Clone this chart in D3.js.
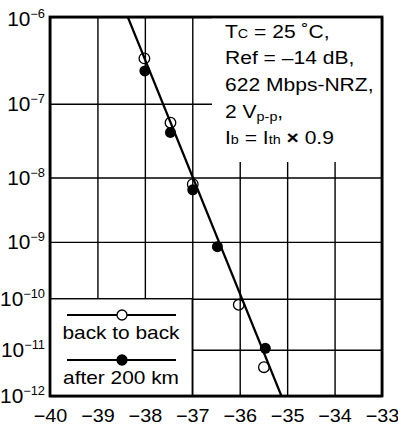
<!DOCTYPE html>
<html>
<head>
<meta charset="utf-8">
<script src="https://cdn.jsdelivr.net/npm/d3@7"></script>
<style>
  body { margin: 0; background: #fff; }
  text { font-family: "Liberation Sans", Arial, sans-serif; fill: #000; }
</style>
</head>
<body>
<svg width="398" height="430"></svg>
<script>
// received optical power (dBm) and bit error rate
let xTicks = [-40, -39, -38, -37, -36, -35, -34, -33];
let berTicks = [1e-6, 1e-7, 1e-8, 1e-9, 1e-10, 1e-11, 1e-12];
let berExp = ["−6", "−7", "−8", "−9", "−10", "−11", "−12"];

let b2bPower = [-38.01, -37.46, -36.99, -36.02, -35.49];
let b2bBer = [3.5e-7, 5.7e-8, 8.0e-9, 7.7e-11, 4.3e-12];

let kmPower = [-38.0, -37.46, -36.99, -36.47, -35.46];
let kmBer = [2.5e-7, 4.25e-8, 6.6e-9, 8.3e-10, 1.07e-11];

let fitPower = [-38.36, -35.12];
let fitBer = [1e-6, 1e-12];

let legendNames = ["back to back", "after 200 km"];

// inverse of the gaussian tail, Q^-1(p) (Acklam)
function qinv(p) {
  let c = [-7.784894002430293e-03, -3.223964580411365e-01, -2.400758277161838e+00,
           -2.549732539343734e+00, 4.374664141464968e+00, 2.938163982698783e+00];
  let d = [7.784695709041462e-03, 3.224671290700398e-01, 2.445134607878984e+00,
           3.754408161209660e+00];
  let q = Math.sqrt(-2 * Math.log(p));
  return (((((c[0]*q + c[1])*q + c[2])*q + c[3])*q + c[4])*q + c[5]) /
         ((((d[0]*q + d[1])*q + d[2])*q + d[3])*q + 1);
}

let margin = {top: 17, right: 16, bottom: 34, left: 50};
let svg = d3.select("svg");
let W = 398, H = 430;
let w = W - margin.left - margin.right;
let h = H - margin.top - margin.bottom;

let x = d3.scaleLinear().domain([-40, -33]).range([0, w]);
let yq = d3.scaleLog().domain([qinv(1e-6), qinv(1e-12)]).range([0, h]);
let y = ber => yq(qinv(ber));

let g = svg.append("g").attr("transform", "translate(" + margin.left + "," + margin.top + ")");

// grid + x labels
let xAxis = g.append("g")
  .attr("transform", "translate(0," + h + ")")
  .call(d3.axisBottom(x).tickValues(xTicks).tickFormat(d3.format("d")).tickSize(-h).tickPadding(13));
xAxis.select(".domain").remove();
xAxis.selectAll("line").attr("stroke", "#000").attr("stroke-width", 1.4);
xAxis.selectAll("text")
  .attr("font-size", 18)
  .attr("font-family", "Liberation Sans, Arial, sans-serif")
  .attr("transform", "scale(1.1,1)");

let yAxis = g.append("g")
  .call(d3.axisLeft(yq).tickValues(berTicks.map(qinv)).tickSize(-w).tickFormat(""));
yAxis.select(".domain").remove();
yAxis.selectAll("line").attr("stroke", "#000").attr("stroke-width", 1.4);

// y labels 10^n
berTicks.forEach(function(b, i) {
  let yy = y(b) + (i == 0 ? 9 : 7);
  let t = g.append("text")
    .attr("text-anchor", "end")
    .attr("transform", "translate(-5," + yy + ") scale(1.07,1)")
    .attr("font-size", 19.5);
  t.append("tspan").text("10");
  t.append("tspan").attr("font-size", 12).attr("dy", -8).text(berExp[i]);
});

// white boxes for legend and notes
g.append("rect").attr("x", x(-40)).attr("y", y(1e-10))
  .attr("width", x(-37) - x(-40)).attr("height", h - y(1e-10))
  .attr("fill", "#fff").attr("stroke", "#000").attr("stroke-width", 1.4);
g.append("rect").attr("x", 162).attr("y", 0)
  .attr("width", w - 162).attr("height", 145)
  .attr("fill", "#fff");

// fitted line
g.append("line")
  .attr("x1", x(fitPower[0])).attr("y1", y(fitBer[0]))
  .attr("x2", x(fitPower[1])).attr("y2", y(fitBer[1]))
  .attr("stroke", "#000").attr("stroke-width", 2.2);

// points
g.selectAll(".km").data(kmPower).enter().append("circle")
  .attr("cx", d => x(d)).attr("cy", (d, i) => y(kmBer[i]))
  .attr("r", 5.5).attr("fill", "#000");
g.selectAll(".b2b").data(b2bPower).enter().append("circle")
  .attr("cx", d => x(d)).attr("cy", (d, i) => y(b2bBer[i]))
  .attr("r", 5.3).attr("fill", "none").attr("stroke", "#000").attr("stroke-width", 1.3);

// frame
g.append("rect").attr("width", w).attr("height", h)
  .attr("fill", "none").attr("stroke", "#000").attr("stroke-width", 2.8);

// legend
let legY = [298, 343];
legendNames.forEach(function(name, i) {
  g.append("line").attr("x1", 17).attr("x2", 126)
    .attr("y1", legY[i]).attr("y2", legY[i])
    .attr("stroke", "#000").attr("stroke-width", 2.2);
  g.append("circle").attr("cx", 72).attr("cy", legY[i]).attr("r", 5)
    .attr("fill", i == 0 ? "#fff" : "#000")
    .attr("stroke", "#000").attr("stroke-width", 1.3);
  g.append("text")
    .attr("text-anchor", "middle")
    .attr("transform", "translate(71," + (legY[i] + 23.5) + ") scale(1.14,1)")
    .attr("font-size", 18.3)
    .text(name);
});

// notes (with subscripts): 0 normal, 1 small, 2 small lowered, 3 bold
let noteParts = [
  [["T", 0], ["C", 1], [" = 25 ˚C,", 0]],
  [["Ref = –14 dB,", 0]],
  [["622 Mbps-NRZ,", 0]],
  [["2 V", 0], ["p-p", 2], [",", 4]],
  [["I", 0], ["b", 1], [" = I", 0], ["th", 1], [" ", 0], ["×", 3], [" 0.9", 0]]
];
noteParts.forEach(function(parts, i) {
  let t = g.append("text")
    .attr("transform", "translate(175," + (20.5 + i * 26.7) + ") scale(1.15,1)")
    .attr("font-size", 18.3);
  parts.forEach(function(p) {
    let s = t.append("tspan").text(p[0]);
    if (p[1] == 1) s.attr("font-size", 12.5);
    if (p[1] == 2) s.attr("font-size", 12.5).attr("dy", 3);
    if (p[1] == 3) s.attr("font-weight", "bold");
    if (p[1] == 4) s.attr("dy", -3);
  });
});
</script>
</body>
</html>
